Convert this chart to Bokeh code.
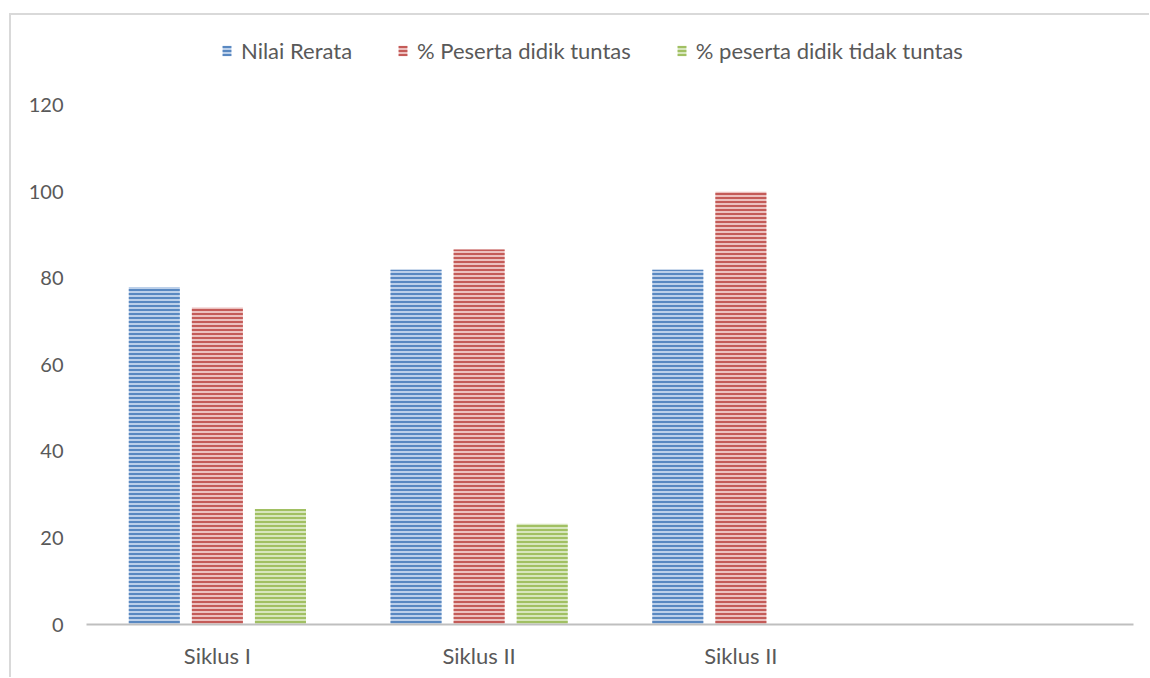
from bokeh.plotting import figure
from bokeh.models import Legend, LegendItem, FixedTicker, Range1d, ColumnDataSource
from bokeh.embed import file_html
from bokeh.resources import INLINE

# ---- data ----
categories = ["Siklus I", "Siklus II", "Siklus II", ""]
series_names = ["Nilai Rerata", "% Peserta didik tuntas", "% peserta didik tidak tuntas"]
nilai_rerata = [78, 82, 82]
tuntas = [73.3, 86.7, 100]
tidak_tuntas = [26.7, 23.3, 0]
y_ticks = [0, 20, 40, 60, 80, 100, 120]

# ---- styles ----
FONT = "Lato"
TXT = "#595959"
fills = ["#bcd0ea", "#ecc0bf", "#d7e6bd"]
hatches = ["#4f81bd", "#c0504d", "#9bbb59"]
offsets = [-0.241, 0.0, 0.241]
bar_w = 0.195

p = figure(width=1140, height=664, output_backend="svg", toolbar_location=None,
           x_range=Range1d(-0.5, len(categories) - 0.5), y_range=Range1d(0, 137.3),
           min_border_left=75, min_border_right=18, min_border_top=15, min_border_bottom=55)
p.styles = {"margin-left": "9px", "margin-top": "13px",
            "border-left": "2px solid #d9d9d9", "border-top": "2px solid #d9d9d9"}
p.outline_line_color = None
p.xgrid.visible = False
p.ygrid.visible = False
p.background_fill_color = "white"
p.border_fill_color = "white"

series = [nilai_rerata, tuntas, tidak_tuntas]
renderers = []
for i, vals in enumerate(series):
    src = ColumnDataSource(dict(x=[k + offsets[i] for k in range(len(vals))], top=vals))
    r = p.vbar(x="x", top="top", width=bar_w, source=src, fill_color=fills[i],
               line_color=None, hatch_pattern="horizontal_line", hatch_color=hatches[i],
               hatch_scale=4, hatch_weight=2, hatch_alpha=0.9)
    renderers.append(r)

# axes
xa = p.xaxis[0]
xa.ticker = FixedTicker(ticks=[0, 1, 2])
xa.major_label_overrides = {k: categories[k] for k in range(3)}
xa.axis_line_color = "#bfbfbf"
xa.axis_line_width = 2
xa.major_tick_line_color = None
xa.minor_tick_line_color = None
xa.major_label_text_font = FONT
xa.major_label_text_font_size = "22px"
xa.major_label_text_color = TXT
xa.major_label_standoff = 11

ya = p.yaxis[0]
ya.ticker = FixedTicker(ticks=y_ticks)
ya.axis_line_color = None
ya.major_tick_line_color = None
ya.minor_tick_line_color = None
ya.major_label_text_font = FONT
ya.major_label_text_font_size = "20px"
ya.major_label_text_color = TXT
ya.major_label_standoff = 17

legend = Legend(items=[LegendItem(label=series_names[i], renderers=[renderers[i]]) for i in range(3)],
                orientation="horizontal", location=(135, 560), border_line_color=None,
                background_fill_alpha=0, padding=0, margin=0, spacing=45,
                glyph_width=11, glyph_height=13, label_standoff=9,
                label_text_font=FONT, label_text_font_size="22px", label_text_color=TXT)
p.add_layout(legend)

open("out.html", "w").write(file_html(p, INLINE))
